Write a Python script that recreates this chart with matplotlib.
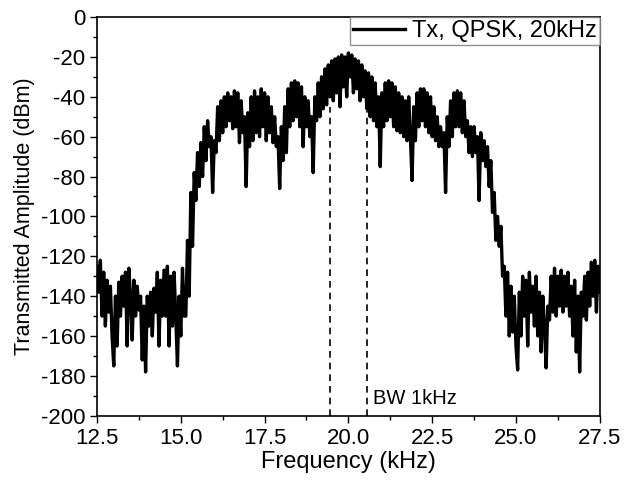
import numpy as np
import matplotlib
matplotlib.use("Agg")
import matplotlib.pyplot as plt
from matplotlib.ticker import MultipleLocator

plt.rcParams['font.family'] = ['Liberation Sans', 'DejaVu Sans']
plt.rcParams['axes.unicode_minus'] = False

# spectrum samples, 0.05 kHz apart, starting at 12.5 kHz
f_start = 12.5
f_step = 0.05

floor_left = [
    -125, -138, -122, -150, -128, -155, -132, -148, -135, -160,
    -175, -140, -165, -133, -150, -130, -145, -128, -165, -126,
    -140, -162, -132, -150, -135, -147, -140, -172, -145, -178,
    -140, -155, -138, -160, -136, -148, -128, -165, -132, -150,
    -127, -150, -125, -165, -130, -155, -128, -150, -175, -140,
    -160, -126, -150, -150, -112, -140, -88, -115, -78, -92,
]
band = [
    -68, -85, -63, -80, -55, -72, -52, -65, -60, -88,
    -62, -68, -45, -62, -42, -58, -40, -55, -38, -52,
    -40, -56, -37, -55, -38, -63, -42, -58, -50, -85,
    -48, -65, -40, -62, -37, -58, -40, -60, -36, -55,
    -38, -62, -40, -58, -45, -63, -50, -65, -60, -86,
    -55, -72, -45, -68, -36, -55, -33, -52, -32, -50,
    -33, -55, -35, -65, -40, -55, -42, -60, -50, -78,
    -40, -52, -33, -50, -30, -46, -26, -44, -24, -40,
    -22, -42, -21, -38, -20, -45, -19, -35, -20, -40,
    -18, -30, -19, -38, -21, -36, -22, -42, -24, -40,
    -27, -46, -28, -50, -30, -52, -33, -55, -40, -75,
    -38, -55, -33, -52, -32, -50, -33, -55, -35, -57,
    -38, -58, -40, -60, -42, -62, -40, -60, -82, -45,
    -62, -38, -55, -36, -52, -36, -55, -38, -58, -40,
    -60, -45, -62, -50, -65, -55, -65, -58, -88, -50,
    -65, -42, -60, -38, -55, -37, -55, -38, -58, -42,
    -60, -52, -68, -55, -70, -55, -68, -60, -92, -58,
    -72, -62, -75, -65, -85, -72, -98, -88, -112, -100,
]
floor_right = [
    -115, -105, -130, -125, -150, -128, -160, -135, -158, -140,
    -165, -177, -138, -160, -130, -150, -132, -165, -128, -148,
    -135, -155, -130, -160, -138, -168, -140, -155, -176, -145,
    -152, -130, -148, -126, -150, -130, -145, -127, -148, -130,
    -145, -128, -150, -135, -160, -132, -168, -140, -178, -138,
    -150, -130, -152, -128, -145, -123, -140, -122, -148, -125,
    -138,
]

bw_edges = [19.45, 20.55]
legend_label = 'Tx, QPSK, 20kHz'

amp = np.array(floor_left + band + floor_right, dtype=float)
freq = f_start + f_step * np.arange(len(amp))

fig = plt.figure(figsize=(6.34, 4.88), dpi=100)
ax = fig.add_axes([0.153, 0.148, 0.793, 0.817])

for x in bw_edges:
    ax.plot([x, x], [-200, -45], color='black', lw=1.2, ls=(0, (4, 3)), zorder=1)

ax.plot(freq, amp, color='black', lw=2.4, label=legend_label, zorder=2)
ax.text(20.72, -196, 'BW 1kHz', fontsize=14.5, ha='left', va='bottom')

ax.set_xlim(12.5, 27.5)
ax.set_ylim(-200, 0)
ax.xaxis.set_major_locator(MultipleLocator(2.5))
ax.xaxis.set_minor_locator(MultipleLocator(1.25))
ax.yaxis.set_major_locator(MultipleLocator(20))
ax.yaxis.set_minor_locator(MultipleLocator(10))
ax.xaxis.set_major_formatter(matplotlib.ticker.FormatStrFormatter('%.1f'))
ax.tick_params(which='major', direction='out', length=5, width=1, labelsize=16)
ax.tick_params(which='minor', direction='out', length=3, width=1)
for s in ax.spines.values():
    s.set_linewidth(1.2)

ax.set_xlabel('Frequency (kHz)', fontsize=17, labelpad=2)
ax.set_ylabel('Transmitted Amplitude (dBm)', fontsize=15.5, labelpad=4)

leg = ax.legend(loc='upper right', fontsize=17, frameon=True, fancybox=False,
                borderaxespad=0, handlelength=2.2, handletextpad=0.3,
                borderpad=0.12)
leg.get_frame().set_edgecolor('#777777')
leg.get_frame().set_linewidth(1.0)

fig.savefig('out.png', dpi=100)
